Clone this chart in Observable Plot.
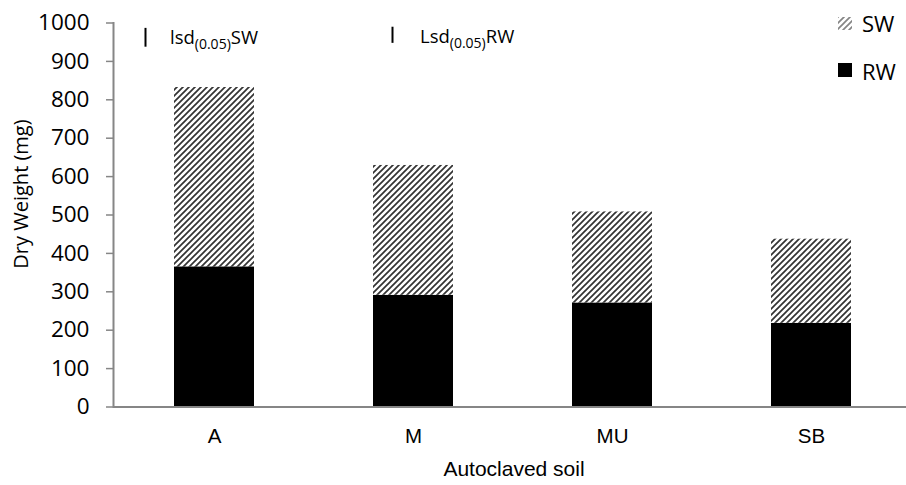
<!DOCTYPE html>
<html>
<head>
<meta charset="utf-8">
<script src="https://cdn.jsdelivr.net/npm/d3@7"></script>
<script src="https://cdn.jsdelivr.net/npm/@observablehq/plot@0.6"></script>
<style>
  html, body { margin: 0; padding: 0; background: #fff; }
  #chart { position: relative; width: 906px; height: 485px; overflow: hidden; }
  .note { position: absolute; font-family: "Open Sans", sans-serif; font-size: 18.5px; line-height: 20px; color: #000; white-space: nowrap; }
  .note sub { font-size: 14px; vertical-align: -5px; line-height: 0; }
  .key { position: absolute; font-family: "Open Sans", sans-serif; font-size: 22px; line-height: 24px; color: #000; white-space: nowrap; }
  .swatch { position: absolute; }
</style>
</head>
<body>
<div id="chart"></div>
<script>
// Dry weight (mg) of roots (RW) and shoots (SW) per autoclaved soil
const soils = ["A", "M", "MU", "SB"];
const rootWeight = [365, 291, 271, 218];
const shootWeight = [467, 338, 237, 219];
const parts = ["RW", "SW"];
const yTicks = [0, 100, 200, 300, 400, 500, 600, 700, 800, 900, 1000];

// Least significant difference bars (P = 0.05)
const lsdParts = ["SW", "RW"];
const lsdValues = [49, 42];
const lsdTops = [986, 989];
const lsdNear = ["A", "M"];

const rows = soils.flatMap((soil, i) => [
  {soil, part: "RW", weight: rootWeight[i]},
  {soil, part: "SW", weight: shootWeight[i]}
]);
const lsd = lsdParts.map((part, i) => ({part, value: lsdValues[i], top: lsdTops[i], near: lsdNear[i]}));

const axisGray = "#868686";
const arial = "'Liberation Sans', Arial, sans-serif";

const chart = Plot.plot({
  width: 906,
  height: 485,
  marginTop: 22.5,
  marginBottom: 78.5,
  marginLeft: 113,
  marginRight: 0,
  style: {fontFamily: "'Open Sans', sans-serif", fontSize: "21px", color: "#000", background: "#fff", overflow: "visible"},
  x: {domain: soils, range: [113.4, 910.6], paddingInner: 0.6, paddingOuter: 0.3},
  y: {domain: [0, 1000]},
  color: {domain: parts, range: ["#000", "url(#sw-hatch)"]},
  marks: [
    Plot.barY(rows, {x: "soil", y: "weight", fill: "part", order: parts}),
    Plot.ruleY([0], {stroke: axisGray, strokeWidth: 2}),
    Plot.frame({anchor: "left", stroke: axisGray, strokeWidth: 2}),
    Plot.axisY({ticks: yTicks, tickFormat: d => String(d), tickSize: 7, tickPadding: 17, stroke: axisGray, strokeWidth: 1.5, label: null, fontSize: 22.5}),
    Plot.axisX({tickSize: 0, tickPadding: 21, label: null, fontFamily: arial, fontSize: 20.5}),
    Plot.text(["Dry Weight (mg)"], {text: d => d, frameAnchor: "left", textAnchor: "middle", rotate: -90, dx: -92, dy: -21, fontSize: 20}),
    Plot.text(["Autoclaved soil"], {text: d => d, frameAnchor: "bottom", dy: 69, dx: 4, fontFamily: arial, fontSize: 21, letterSpacing: "0.8px"}),
    Plot.ruleX(lsd.filter(d => d.part === "SW"), {x: "near", y1: d => d.top - d.value, y2: "top", dx: -69, stroke: "#000", strokeWidth: 2}),
    Plot.ruleX(lsd.filter(d => d.part === "RW"), {x: "near", y1: d => d.top - d.value, y2: "top", dx: -21, stroke: "#000", strokeWidth: 2})
  ]
});

// diagonal hatch used for the shoot-weight segments
d3.select(chart).insert("defs", ":first-child").html(`
  <pattern id="sw-hatch" patternUnits="userSpaceOnUse" width="6" height="6">
    <rect width="6" height="6" fill="#fff"/>
    <path d="M0,6 L6,0 M-1.5,1.5 L1.5,-1.5 M4.5,7.5 L7.5,4.5" stroke="#333" stroke-width="1.7"/>
  </pattern>`);

const root = document.getElementById("chart");
root.appendChild(chart);

// lsd labels with subscripts, and the key
root.insertAdjacentHTML("beforeend", `
  <div class="note" style="left:170px;top:27px">lsd<sub>(0.05)</sub>SW</div>
  <div class="note" style="left:420px;top:26px">Lsd<sub>(0.05)</sub>RW</div>
  <svg class="swatch" style="left:838px;top:17px" width="14" height="13"><rect width="14" height="13" fill="url(#sw-hatch)" opacity="0.6"/></svg>
  <div class="key" style="left:862px;top:11px">SW</div>
  <svg class="swatch" style="left:838px;top:63px" width="14" height="14"><rect width="14" height="14" fill="#000"/></svg>
  <div class="key" style="left:862px;top:59px">RW</div>
`);
</script>
</body>
</html>
